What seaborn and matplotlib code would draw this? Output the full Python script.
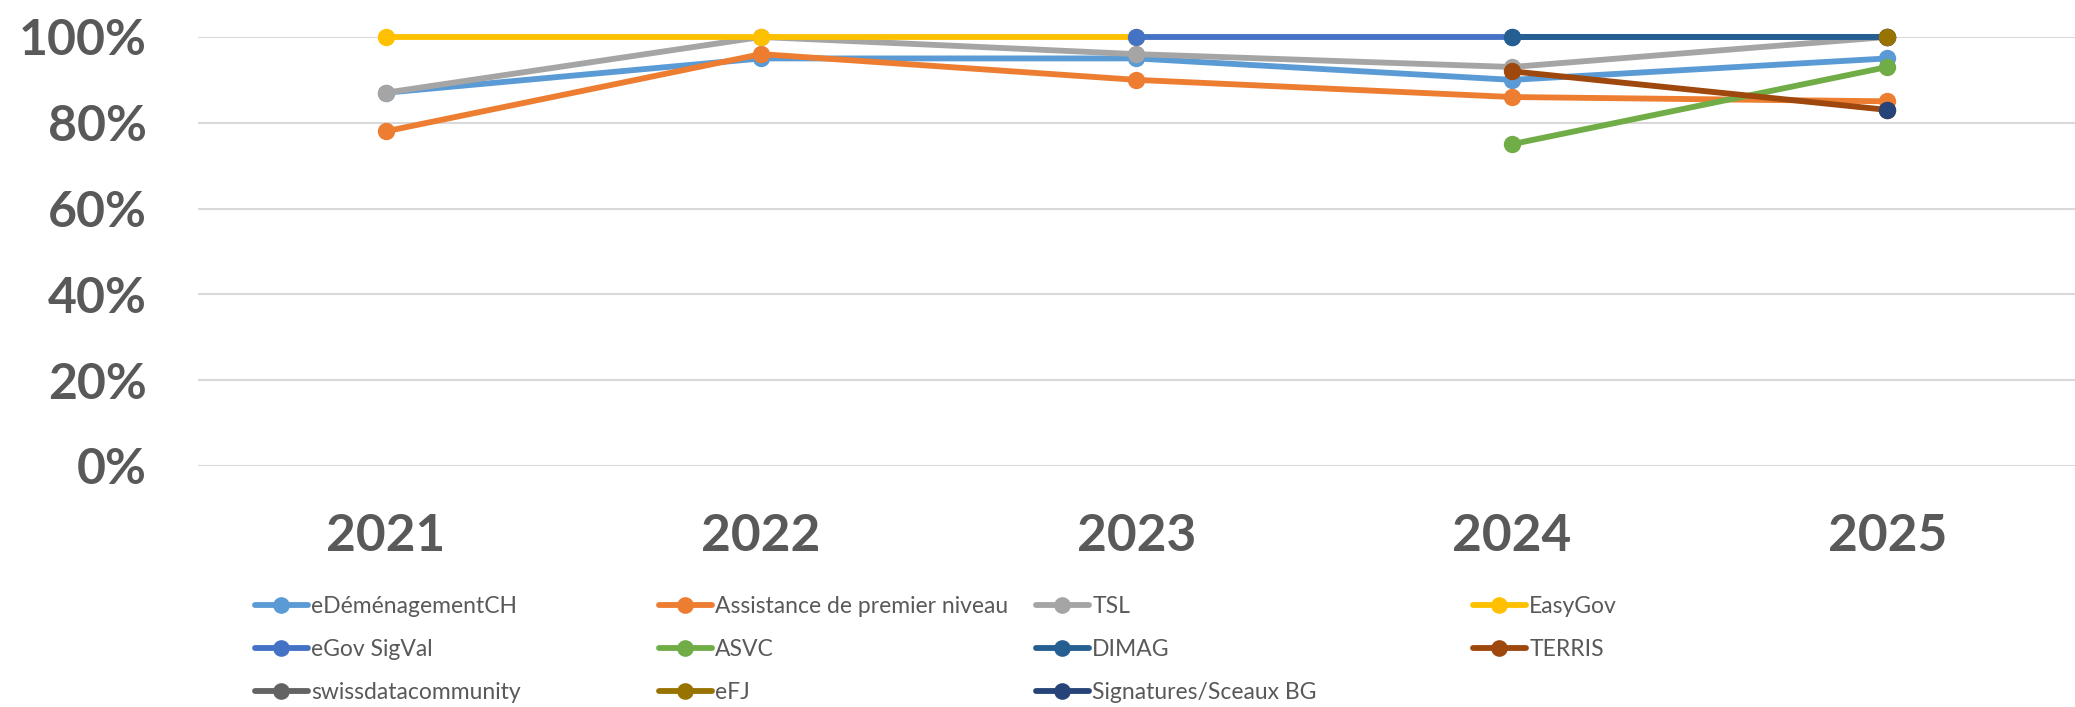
import pandas as pd
import seaborn as sns
import matplotlib.pyplot as plt
from matplotlib.lines import Line2D

# Données (taux en fraction)
years = ['2021', '2022', '2023', '2024', '2025']
services = ['eDéménagementCH', 'Assistance de premier niveau', 'TSL', 'EasyGov',
            'eGov SigVal', 'ASVC', 'DIMAG', 'TERRIS',
            'swissdatacommunity', 'eFJ', 'Signatures/Sceaux BG']
colors = ['#5B9BD5', '#ED7D31', '#A5A5A5', '#FFC000', '#4472C4', '#70AD47',
          '#255E91', '#9E480E', '#636363', '#997300', '#264478']

edemenagement = [0.87, 0.95, 0.95, 0.90, 0.95]
assistance = [0.78, 0.96, 0.90, 0.86, 0.85]
tsl = [0.87, 1.00, 0.96, 0.93, 1.00]
easygov = [1.00, 1.00, 1.00, None, None]
egov_sigval = [None, None, 1.00, 1.00, 1.00]
asvc = [None, None, None, 0.75, 0.93]
dimag = [None, None, None, 1.00, 1.00]
terris = [None, None, None, 0.92, 0.83]
swissdata = [None, None, None, None, 1.00]
efj = [None, None, None, None, 1.00]
signatures = [None, None, None, None, 0.83]

series = [edemenagement, assistance, tsl, easygov, egov_sigval, asvc,
          dimag, terris, swissdata, efj, signatures]

rows = []
for name, vals in zip(services, series):
    for i, v in enumerate(vals):
        if v is not None:
            rows.append({'service': name, 'pos': i, 'value': v})
df = pd.DataFrame(rows)

sns.set_style('white')
plt.rcParams['font.family'] = ['Lato', 'DejaVu Sans']
grey = '#595959'

fig = plt.figure(figsize=(20.75, 7.07), dpi=100)
ax = fig.add_axes([0.0954, 0.341, 0.9046, 0.6067])

sns.lineplot(data=df, x='pos', y='value', hue='service', hue_order=services,
             palette=colors, marker='o', markersize=12.5, markeredgewidth=0,
             linewidth=4.2, legend=False, clip_on=False, ax=ax)

ax.set_xlim(-0.5, 4.5)
ax.set_ylim(0, 1)
yt = [0, 0.2, 0.4, 0.6, 0.8, 1.0]
ax.set_yticks(yt, [f'{int(round(v * 100))}%' for v in yt])
ax.set_xticks(range(len(years)), years)
ax.tick_params(axis='y', length=0, pad=37, labelsize=36, labelcolor=grey)
ax.tick_params(axis='x', length=0, pad=34, labelsize=37, labelcolor=grey)
for lab in ax.get_xticklabels() + ax.get_yticklabels():
    lab.set_fontweight('bold')
ax.grid(axis='y', color='#D9D9D9', linewidth=1.5)
ax.set_axisbelow(True)
sns.despine(ax=ax, left=True, bottom=True)
ax.set_xlabel('')
ax.set_ylabel('')

# Légende en 4 colonnes, ordre ligne par ligne
col_x = [255, 659, 1036, 1473]
for c in range(4):
    idx = list(range(c, len(services), 4))
    handles = [Line2D([], [], color=colors[i], lw=4.2, marker='o', ms=12, mew=0)
               for i in idx]
    labels = [services[i] for i in idx]
    leg = fig.legend(handles, labels, loc='upper left',
                     bbox_to_anchor=(col_x[c] / 2075, 1 - 596 / 707),
                     frameon=False, fontsize=16.5, handlelength=2.3,
                     handletextpad=0.15, labelspacing=0.95, borderpad=0,
                     borderaxespad=0)
    for t in leg.get_texts():
        t.set_color(grey)

fig.savefig('out.png', dpi=100)
